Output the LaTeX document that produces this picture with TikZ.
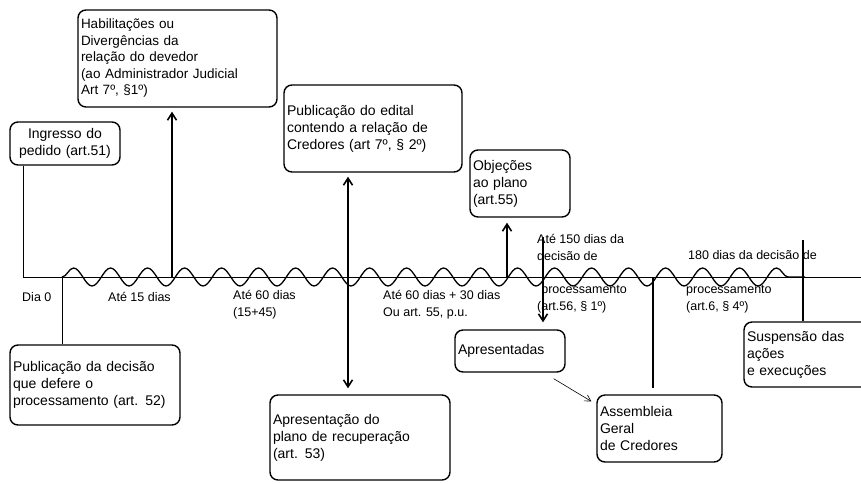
\documentclass[tikz,border=0pt]{standalone}
\usepackage{fontspec}
\setmainfont{Liberation Sans}
\usetikzlibrary{arrows.meta,decorations.pathmorphing}
\begin{document}
\begin{tikzpicture}[x=1pt,y=-1pt,
  caixa/.style={draw, line width=1.4pt, rounded corners=8pt, align=left, inner sep=3pt,
    font=\fontsize{14}{17}\selectfont},
  rotulo/.style={align=left, inner sep=0pt, font=\fontsize{12.5}{17.5}\selectfont},
  haste/.style={line width=1.6pt},
  seta/.style={line width=1.6pt, -{Straight Barb[length=7pt,width=9pt]}}]
  \useasboundingbox (0,0) rectangle (861,483);
  \coordinate (t0) at (23,277);
  \coordinate (w0) at (62,277);
  \coordinate (t15) at (172,277);
  \coordinate (t60) at (348,277);
  \coordinate (t90) at (507,277);
  \coordinate (t150) at (543,237);
  \coordinate (tag) at (653,277);
  \coordinate (t180) at (803,240);
  \coordinate (w1) at (805,277);
  \coordinate (fim) at (861,277);
  \node[caixa, align=center, text width=104pt, minimum height=43pt] (ingresso) at (65,143.5)
    {Ingresso do\\pedido (art.51)};
  \node[caixa, text width=193pt, minimum height=97pt, font=\fontsize{13.5}{16.5}\selectfont] (habil) at (177.5,58.5)
    {Habilitações ou\\Divergências da\\relação do devedor\\(ao Administrador Judicial\\Art 7º, §1º)};
  \node[caixa, text width=172pt, minimum height=87pt] (edital) at (373,128.5)
    {Publicação do edital\\contendo a relação de\\Credores (art 7º, § 2º)};
  \node[caixa, text width=94pt, minimum height=67pt] (objecoes) at (520,183.5)
    {Objeções\\ao plano\\(art.55)};
  \node[caixa, text width=164pt, minimum height=80pt] (pubdec) at (95,385)
    {Publicação da decisão\\que defere o\\processamento (art. 52)};
  \node[caixa, text width=174pt, minimum height=85pt] (apres) at (360,437.5)
    {Apresentação do\\plano de recuperação\\(art. 53)};
  \node[caixa, text width=104pt, minimum height=42pt] (apresentadas) at (510,351)
    {Apresentadas};
  \node[caixa, text width=119pt, minimum height=67pt] (assembleia) at (659.5,428.5)
    {Assembleia\\Geral\\de Credores};
  \node[caixa, text width=124pt, minimum height=65pt] (suspensao) at (809,354.5)
    {Suspensão das\\ações\\e execuções};
  \node[rotulo, anchor=west] (dia0) at (22,297) {Dia 0};
  \node[rotulo, anchor=west] (ate15) at (108,297) {Até 15 dias};
  \node[rotulo, anchor=north west] (ate60) at (233,290) {Até 60 dias\\(15+45)};
  \node[rotulo, anchor=north west] (ate90) at (383,290) {Até 60 dias + 30 dias\\Ou art. 55, p.u.};
  \node[rotulo, anchor=north west] (ate150) at (537,234) {Até 150 dias da\\decisão de};
  \node[rotulo, anchor=north west] (proc150) at (537,285) {\,\,processamento\\(art.56, § 1º)};
  \node[rotulo, anchor=west] (ate180) at (688,255) {180 dias da decisão de};
  \node[rotulo, anchor=north west] (proc180) at (686,285) {processamento\\(art.6, § 4º)};
  \draw[line width=0.8pt] (ingresso.south -| t0) -- (t0) -- (fim);
  \draw[line width=1.3pt, decorate, decoration={snake, amplitude=9pt, segment length=37pt}] (w0) -- (w1);
  \draw[line width=1pt] (w0) -- (w0 |- pubdec.north);
  \draw[seta, shorten >=4pt] (t15) -- (t15 |- habil.south);
  \draw[seta, {Straight Barb[length=7pt,width=9pt]}-{Straight Barb[length=7pt,width=9pt]},
    shorten <=4pt, shorten >=6pt] (t60 |- edital.south) -- (t60 |- apres.north);
  \draw[seta, shorten >=5pt] (t90) -- (t90 |- objecoes.south);
  \draw[seta, shorten >=7pt] (t150) -- (t150 |- apresentadas.north);
  \draw[haste, shorten >=6pt] (tag) -- (tag |- assembleia.north);
  \draw[haste] (t180) -- (t180 |- suspensao.north);
  \draw[line width=0.6pt, -{Straight Barb[length=6pt,width=7pt]}]
    ([shift={(-12,6)}]apresentadas.south east) -- ([shift={(-5,7)}]assembleia.north west);
\end{tikzpicture}
\end{document}
